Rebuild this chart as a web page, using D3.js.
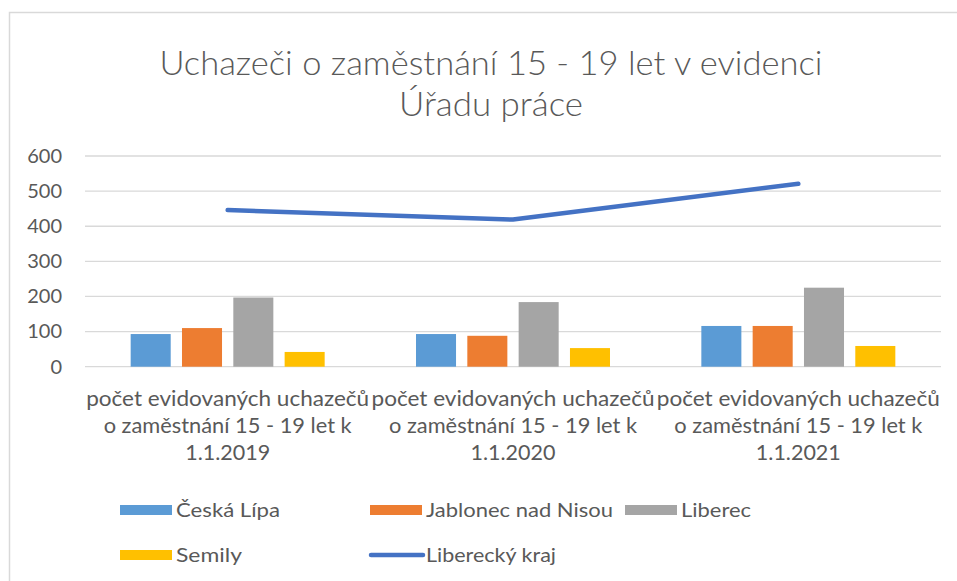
<!DOCTYPE html>
<html>
<head>
<meta charset="utf-8">
<script src="https://cdn.jsdelivr.net/npm/d3@7"></script>
<style>
  html, body { margin: 0; padding: 0; background: #fff; }
  svg { display: block; }
  text { font-family: Lato, "Open Sans", sans-serif; fill: #595959; }
</style>
</head>
<body>
<svg id="chart" width="957" height="581"></svg>
<script>
// Category labels (line breaks as shown under the axis)
const categories = [
  "počet evidovaných uchazečů\no zaměstnání 15 - 19 let k\n1.1.2019",
  "počet evidovaných uchazečů\no zaměstnání 15 - 19 let k\n1.1.2020",
  "počet evidovaných uchazečů\no zaměstnání 15 - 19 let k\n1.1.2021"
];
const barSeries = ["Česká Lípa", "Jablonec nad Nisou", "Liberec", "Semily"];
const ceskaLipa = [93, 93, 116];
const jablonec  = [110, 88, 116];
const liberec   = [197, 184, 225];
const semily    = [42, 53, 59];
const lineSeries = "Liberecký kraj";
const libereckyKraj = [446, 419, 521];
const yTicks = [0, 100, 200, 300, 400, 500, 600];
const titleLines = ["Uchazeči o zaměstnání 15 - 19 let v evidenci", "Úřadu práce"];

const barValues = [ceskaLipa, jablonec, liberec, semily];
const colors = ["#5B9BD5", "#ED7D31", "#A5A5A5", "#FFC000"];
const lineColor = "#4472C4";

const svg = d3.select("#chart");

// chart area frame
svg.append("rect")
  .attr("x", 9.5).attr("y", 12.5)
  .attr("width", 1000).attr("height", 1000)
  .attr("fill", "none").attr("stroke", "#D9D9D9").attr("stroke-width", 1.5);

// title
const titleG = svg.append("g");
const titleWidths = [663, 184];
titleLines.forEach((t, i) => {
  titleG.append("text")
    .attr("x", 491).attr("y", 75 + i * 41)
    .attr("text-anchor", "middle")
    .attr("font-size", 34).attr("font-weight", 300)
    .attr("textLength", titleWidths[i]).attr("lengthAdjust", "spacingAndGlyphs")
    .text(t);
});

const x0 = d3.scaleBand().domain(d3.range(categories.length)).range([85, 941]);
const x1 = d3.scaleBand().domain(d3.range(barSeries.length))
  .range([0, x0.bandwidth()]).paddingInner(0.22).paddingOuter(0.89);
const y = d3.scaleLinear().domain([0, 600]).range([366.7, 156]);

// gridlines
svg.append("g").selectAll("line").data(yTicks).join("line")
  .attr("x1", 85).attr("x2", 941)
  .attr("y1", d => y(d)).attr("y2", d => y(d))
  .attr("stroke", "#D9D9D9").attr("stroke-width", 1.3);

// y axis labels
const yAxis = d3.axisLeft(y).tickValues(yTicks).tickSize(0).tickPadding(0);
const yg = svg.append("g").attr("transform", "translate(62,0)").call(yAxis);
yg.select(".domain").remove();
yg.selectAll("text")
  .attr("font-size", 20).attr("fill", "#595959")
  .style("font-family", "Lato, sans-serif");

// bars
barValues.forEach((vals, s) => {
  svg.append("g").selectAll("rect").data(vals).join("rect")
    .attr("x", (d, i) => x0(i) + x1(s))
    .attr("width", x1.bandwidth())
    .attr("y", d => y(d))
    .attr("height", d => y(0) - y(d))
    .attr("fill", colors[s]);
});

// total line
const line = d3.line()
  .x((d, i) => x0(i) + x0.bandwidth() / 2)
  .y(d => y(d));
svg.append("path").datum(libereckyKraj)
  .attr("d", line)
  .attr("fill", "none").attr("stroke", lineColor)
  .attr("stroke-width", 4.5)
  .attr("stroke-linecap", "round").attr("stroke-linejoin", "round");

// category labels
const lineWidths = [283, 248, 85];
categories.forEach((c, i) => {
  c.split("\n").forEach((ln, j) => {
    svg.append("text")
      .attr("x", x0(i) + x0.bandwidth() / 2)
      .attr("y", 406 + j * 27)
      .attr("text-anchor", "middle")
      .attr("font-size", 21)
      .attr("textLength", lineWidths[j]).attr("lengthAdjust", "spacingAndGlyphs")
      .text(ln);
  });
});

// legend
const legendItems = [
  { name: barSeries[0], color: colors[0], x: 120, row: 0, w: 104, type: "bar" },
  { name: barSeries[1], color: colors[1], x: 370, row: 0, w: 187, type: "bar" },
  { name: barSeries[2], color: colors[2], x: 625, row: 0, w: 70, type: "bar" },
  { name: barSeries[3], color: colors[3], x: 120, row: 1, w: 66, type: "bar" },
  { name: lineSeries, color: lineColor, x: 370, row: 1, w: 130, type: "line" }
];
const lg = svg.append("g");
legendItems.forEach(it => {
  const cy = 510 + it.row * 45;
  if (it.type === "bar") {
    lg.append("rect").attr("x", it.x).attr("y", cy - 5)
      .attr("width", 52).attr("height", 10).attr("fill", it.color);
  } else {
    lg.append("line").attr("x1", it.x + 1).attr("x2", it.x + 53)
      .attr("y1", cy).attr("y2", cy)
      .attr("stroke", it.color).attr("stroke-width", 4.5)
      .attr("stroke-linecap", "round");
  }
  lg.append("text").attr("x", it.x + 56).attr("y", cy + 6.5)
    .attr("font-size", 19)
    .attr("textLength", it.w).attr("lengthAdjust", "spacingAndGlyphs")
    .text(it.name);
});
</script>
</body>
</html>
